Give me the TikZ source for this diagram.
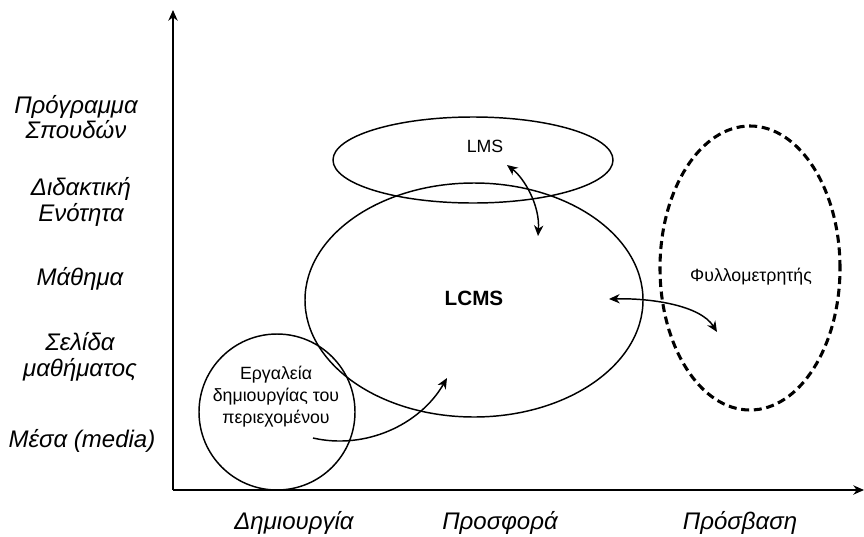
\documentclass[tikz,border=0pt]{standalone}
\usepackage{fontspec}
\setmainfont{Liberation Sans}
\usetikzlibrary{shapes.geometric,arrows.meta}
\begin{document}
\begin{tikzpicture}[x=0.75pt,y=-0.75pt,
  axlab/.style={font=\fontsize{18}{19}\selectfont\itshape, align=center, inner sep=0},
  txt/.style={font=\fontsize{13.3}{16.5}\selectfont, align=center, inner sep=0},
  line/.style={line width=1.1pt},
  arr/.style={line width=1.1pt, -{Stealth[length=8pt,width=7pt,inset=2.5pt]}},
  darr/.style={line width=1.1pt, {Stealth[length=8pt,width=7pt,inset=2.5pt]}-{Stealth[length=8pt,width=7pt,inset=2.5pt]}}]
\useasboundingbox (0,0) rectangle (864,536);
% axes
\coordinate (o) at (173,490);
\coordinate (ytop) at (173,10);
\coordinate (xend) at (864,490);
\draw[arr] (o) -- (ytop);
\draw[arr] (o) -- (xend);
% axis labels
\node[axlab] (l1) at (76,117) {Πρόγραμμα\\Σπουδών};
\node[axlab] (l2) at (81,202) {Διδακτική\\Ενότητα};
\node[axlab] (l3) at (80,279) {Μάθημα};
\node[axlab] (l4) at (80,357) {Σελίδα\\μαθήματος};
\node[axlab] (l5) at (82,441) {Μέσα (media)};
\node[axlab] (b1) at (294,523) {Δημιουργία};
\node[axlab] (b2) at (500,523) {Προσφορά};
\node[axlab] (b3) at (740,523) {Πρόσβαση};
% shapes
\node[ellipse, draw, line, minimum width=210pt, minimum height=64.5pt, inner sep=0] (lms) at (473,160) {};
\node[ellipse, draw, line, minimum width=253.5pt, minimum height=175.5pt, inner sep=0] (lcms) at (474,300) {};
\node[circle, draw, line, minimum size=117pt, inner sep=0] (tools) at (277,412) {};
\node[ellipse, draw, line width=2.3pt, dash pattern=on 6pt off 3.5pt, minimum width=135pt, minimum height=213pt, inner sep=0] (browser) at (750,268) {};
% texts
\node[txt] (lmst) at (485,146) {LMS};
\node[txt, font=\fontsize{15.5}{18}\selectfont\bfseries] (lcmst) at (474,298) {LCMS};
\node[txt] (brt) at (751,277) {Φυλλομετρητής};
\node[txt] (toolst) at (276,397) {Εργαλεία\\δημιουργίας του\\περιεχομένου};
% connectors
\coordinate (a1) at (507,165);
\coordinate (a2) at (538,236);
\draw[darr] (a1) .. controls (524,178) and (540,205) .. (a2);
\coordinate (c1) at (609,299);
\coordinate (c2) at (717,332);
\draw[darr] (c1) .. controls (650,298) and (700,305) .. (c2);
\coordinate (t1) at (313,438);
\coordinate (t2) at (447,378);
\draw[arr] (t1) .. controls (365,450) and (420,425) .. (t2);
\end{tikzpicture}
\end{document}
